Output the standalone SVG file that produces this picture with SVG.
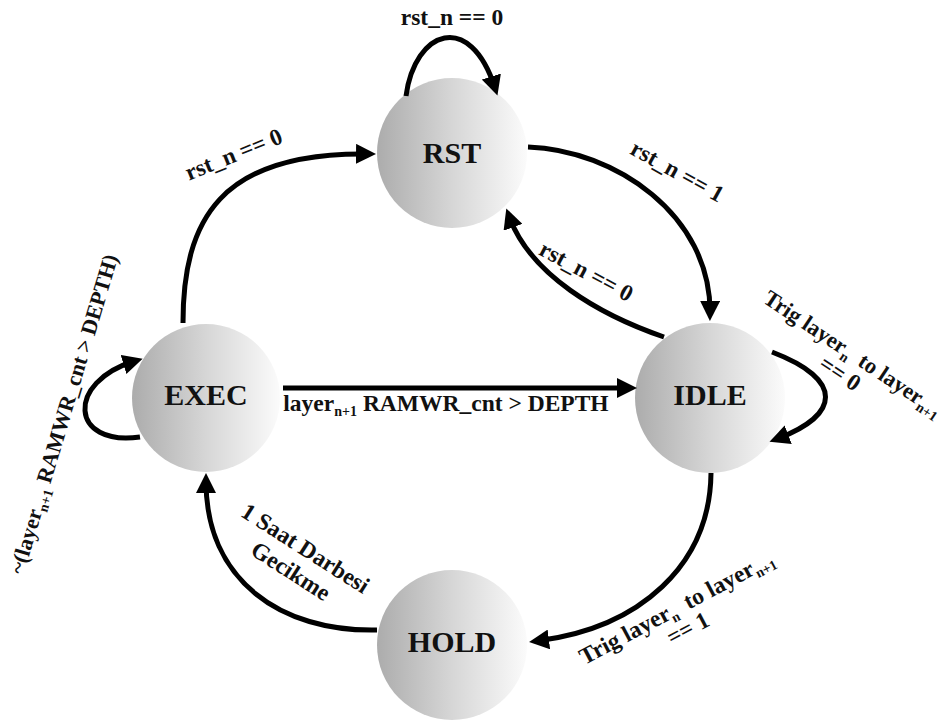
<svg xmlns="http://www.w3.org/2000/svg" width="946" height="720" viewBox="0 0 946 720">
  <style>
    .state { stroke: none; fill: url(#ball); }
    .state-label { font-family: "Liberation Serif", "Times New Roman", serif; font-weight: bold; font-size: 30px; fill: #111; text-anchor: middle; }
    .edge { fill: none; stroke: #000; stroke-width: 5; marker-end: url(#head); }
    .edge-label { font-family: "Liberation Serif", "Times New Roman", serif; font-weight: bold; font-size: 23.5px; fill: #111; text-anchor: middle; }
    .sub { font-size: 14px; }
  </style>
  <defs>
    <linearGradient id="ball" x1="0" y1="0" x2="1" y2="0">
      <stop offset="0" stop-color="#acacac"/>
      <stop offset="0.5" stop-color="#d6d6d6"/>
      <stop offset="1" stop-color="#fbfbfb"/>
    </linearGradient>
    <marker id="head" markerUnits="userSpaceOnUse" markerWidth="20" markerHeight="20" refX="12" refY="10" orient="auto">
      <path d="M0,0 L20,10 L0,20 z" fill="#000"/>
    </marker>
  </defs>

  <rect width="946" height="720" fill="#fff"/>

  <!-- states -->
  <g id="RST">
    <circle class="state" cx="452" cy="153" r="75"/>
    <text class="state-label" x="452" y="163">RST</text>
  </g>
  <g id="IDLE">
    <circle class="state" cx="710" cy="398" r="75"/>
    <text class="state-label" x="710" y="405">IDLE</text>
  </g>
  <g id="EXEC">
    <circle class="state" cx="206" cy="398" r="74"/>
    <text class="state-label" x="206" y="405">EXEC</text>
  </g>
  <g id="HOLD">
    <circle class="state" cx="452" cy="645" r="75"/>
    <text class="state-label" x="452" y="652">HOLD</text>
  </g>

  <!-- transitions -->
  <g id="connectors">
    <path id="rst-self" class="edge" d="M406,96 C415,30 470,10 495,88"/>
    <path id="exec-rst" class="edge" d="M183,323 C183,220 220,152 368,154"/>
    <path id="rst-idle" class="edge" d="M528,147 C615,150 711,215 710,313"/>
    <path id="idle-rst" class="edge" d="M664,337 C600,315 530,275 509,216"/>
    <path id="idle-self" class="edge" d="M772,352 C845,380 840,415 777,439"/>
    <path id="idle-hold" class="edge" d="M711,473 C710,565 640,628 537,641"/>
    <path id="hold-exec" class="edge" d="M377,630 C280,632 206,580 206,481"/>
    <path id="exec-idle" class="edge" d="M283,388 L629,388"/>
    <path id="exec-self" class="edge" d="M140,437 C70,447 65,382 135,361"/>
  </g>

  <!-- transition conditions -->
  <g id="edge-labels">
    <text class="edge-label" x="452" y="25">rst_n == 0</text>
    <text class="edge-label" transform="translate(234,155) rotate(-22)" y="7">rst_n == 0</text>
    <text class="edge-label" transform="translate(677,172) rotate(29)" y="7">rst_n == 1</text>
    <text class="edge-label" transform="translate(586,272) rotate(28)" y="7">rst_n == 0</text>
    <text class="edge-label" x="446" y="411">layer<tspan class="sub" dy="5">n+1</tspan><tspan dy="-5"> RAMWR_cnt &gt; DEPTH</tspan></text>
    <g transform="translate(853,354) rotate(33.6)">
      <text class="edge-label" y="7" style="font-size:22.5px">Trig layer<tspan class="sub" dy="5">n</tspan><tspan dy="-5" dx="5"> to layer</tspan><tspan class="sub" dy="5">n+1</tspan></text>
      <text class="edge-label" y="31">== 0</text>
    </g>
    <g transform="translate(677,608) rotate(-28)">
      <text class="edge-label" y="7">Trig layer<tspan class="sub" dy="5">n</tspan><tspan dy="-5" dx="5"> to layer</tspan><tspan class="sub" dy="5">n+1</tspan></text>
      <text class="edge-label" y="31">== 1</text>
    </g>
    <g transform="translate(305,549) rotate(32.5)">
      <text class="edge-label" y="7">1 Saat Darbesi</text>
      <text class="edge-label" y="34">Gecikme</text>
    </g>
    <text class="edge-label" transform="translate(64,414) rotate(-73.4)" y="7" style="font-size:22px">~(layer<tspan class="sub" dy="5">n+1</tspan><tspan dy="-5"> RAMWR_cnt &gt; DEPTH)</tspan></text>
  </g>
</svg>
